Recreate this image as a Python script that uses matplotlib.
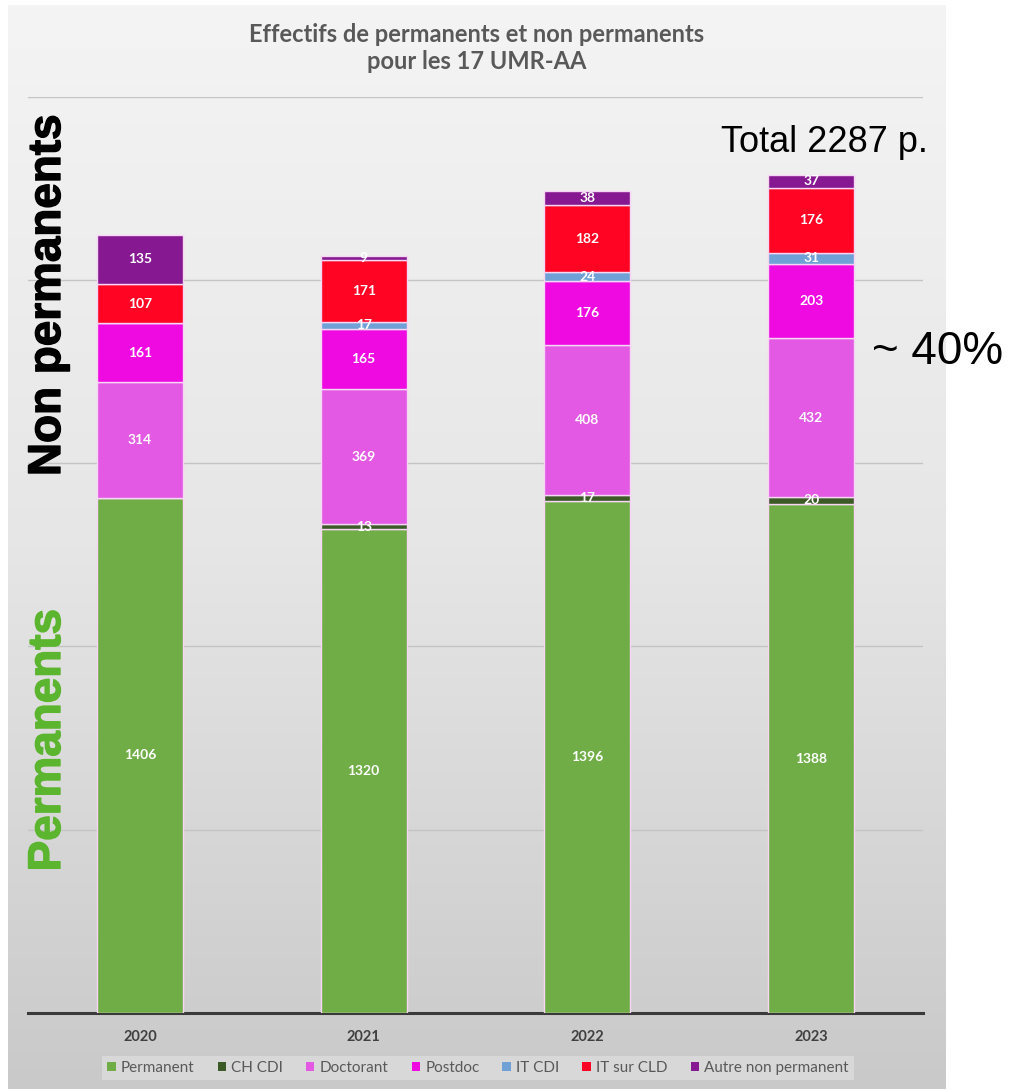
import matplotlib
matplotlib.use('Agg')
import matplotlib.pyplot as plt
from matplotlib.patches import Patch
import matplotlib.patheffects as pe
import numpy as np

# donnees
annees = ['2020', '2021', '2022', '2023']
permanent = [1406, 1320, 1396, 1388]
ch_cdi = [0, 13, 17, 20]
doctorant = [314, 369, 408, 432]
postdoc = [161, 165, 176, 203]
it_cdi = [0, 17, 24, 31]
it_cld = [107, 171, 182, 176]
autre = [135, 9, 38, 37]

series = [
    ('Permanent', permanent, '#70ad47'),
    ('CH CDI', ch_cdi, '#3b5a26'),
    ('Doctorant', doctorant, '#e359e3'),
    ('Postdoc', postdoc, '#ee0ae0'),
    ('IT CDI', it_cdi, '#6fa1d6'),
    ('IT sur CLD', it_cld, '#ff0423'),
    ('Autre non permanent', autre, '#861891'),
]

police = ['Lato', 'DejaVu Sans']

W, H = 1015, 1091
fig = plt.figure(figsize=(W / 100, H / 100), dpi=100)

# fond du graphique (degrade gris)
bg = fig.add_axes([8 / W, 1 - 1089 / H, 938 / W, 1084 / H], zorder=0)
grad = np.linspace(0, 1, 256).reshape(-1, 1)
bg.imshow(grad, aspect='auto', cmap=matplotlib.colors.LinearSegmentedColormap.from_list(
    'g', ['#f4f4f4', '#e6e6e6', '#c9c9c9']), extent=[0, 1, 0, 1], origin='upper')
bg.set_axis_off()

ax = fig.add_axes([28 / W, 1 - 1013 / H, 895 / W, (1013 - 96.5) / H], zorder=1)
ax.patch.set_alpha(0)
x = np.arange(len(annees))
bottom = np.zeros(len(annees))
for nom, vals, col in series:
    vals = np.array(vals, dtype=float)
    ax.bar(x, vals, 0.385, bottom=bottom, color=col, edgecolor='#f7d6f5',
           linewidth=1, zorder=3)
    for xi, v, b in zip(x, vals, bottom):
        if v > 0:
            ax.text(xi, b + v / 2, f'{int(v)}', ha='center', va='center',
                    color='white', fontsize=10, fontweight='bold',
                    family=police, zorder=4)
    bottom += vals

ax.set_xlim(-0.5, 3.5)
ax.set_ylim(0, 2500)
ax.set_yticks([500, 1000, 1500, 2000, 2500])
ax.yaxis.grid(True, color='#c4c4c4', linewidth=1)
ax.set_axisbelow(True)
ax.tick_params(axis='y', left=False, labelleft=False)
ax.set_xticks(x)
ax.set_xticklabels(annees, fontsize=10.5, fontweight='bold', color='#404040',
                   family=police)
ax.tick_params(axis='x', length=0, pad=12)
for s in ['left', 'right', 'top']:
    ax.spines[s].set_visible(False)
ax.spines['bottom'].set_color('#3a3a3a')
ax.spines['bottom'].set_linewidth(2.2)

fig.text(477 / W, 1 - 48 / H, 'Effectifs de permanents et non permanents\npour les 17 UMR-AA',
         ha='center', va='center', fontsize=17, fontweight='bold', color='#595959',
         family=police, linespacing=1.25)

handles = [Patch(facecolor=c, edgecolor='none') for _, _, c in series]
leg = fig.legend(handles, [n for n, _, _ in series], loc='center',
                 bbox_to_anchor=(478 / W, 1 - 1068 / H), ncol=7, fontsize=11,
                 frameon=True, fancybox=False, handlelength=0.55, handleheight=0.55,
                 handletextpad=0.35, columnspacing=1.5, borderpad=0.35)
leg.get_frame().set_facecolor('#dcdcdc')
leg.get_frame().set_edgecolor('none')
for t in leg.get_texts():
    t.set_color('#595959')
    t.set_family(police)

# annotations ajoutees sur la diapo
fig.text(48 / W, 1 - 295 / H, 'Non permanents', rotation=90, ha='center', va='center',
         fontsize=33, fontweight='bold', color='black', family='Liberation Sans',
         zorder=5, path_effects=[pe.withStroke(linewidth=1, foreground='black')])
fig.text(48 / W, 1 - 740 / H, 'Permanents', rotation=90, ha='center', va='center',
         fontsize=33, fontweight='bold', color='#5cb52e', family='Liberation Sans',
         zorder=5, path_effects=[pe.withStroke(linewidth=1, foreground='#5cb52e')])
fig.text(824 / W, 1 - 143 / H, 'Total 2287 p.', ha='center', va='center',
         fontsize=26, color='black', family='Liberation Sans', zorder=5)
fig.text(938 / W, 1 - 352 / H, '~ 40%', ha='center', va='center',
         fontsize=33, color='black', family='Liberation Sans', zorder=5)

fig.savefig('out.png', dpi=100)
plt.close()
